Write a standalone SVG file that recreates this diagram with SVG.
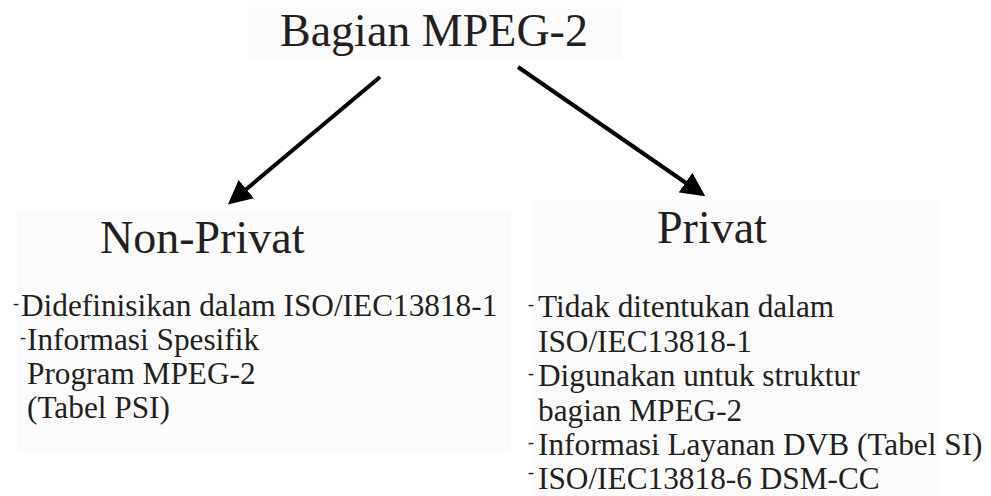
<svg xmlns="http://www.w3.org/2000/svg" width="991" height="496" viewBox="0 0 991 496">
  <style>
    text { font-family: "Liberation Serif", "Times New Roman", serif; fill: #231f20; }
    .head { font-size: 46px; }
    .item { font-size: 31.3px; }
    .dot { font-size: 18px; }
    .panel { fill: #fbfbfb; }
    .link { stroke: #000; stroke-width: 4; fill: none; }
  </style>
  <defs>
    <marker id="arrow" markerWidth="6" markerHeight="6" refX="5" refY="3" orient="auto" markerUnits="strokeWidth">
      <path d="M0,0 L6,3 L0,6 z" fill="#000"/>
    </marker>
  </defs>

  <rect width="991" height="496" fill="#fff"/>

  <!-- root -->
  <g id="root">
    <rect class="panel" x="248" y="7" width="374" height="53"/>
    <text class="head" x="280" y="46">Bagian MPEG-2</text>
  </g>

  <!-- connectors -->
  <g id="connectors">
    <line class="link" x1="380" y1="77" x2="231" y2="202" marker-end="url(#arrow)"/>
    <line class="link" x1="518" y1="67" x2="702" y2="194" marker-end="url(#arrow)"/>
  </g>

  <!-- non-private branch -->
  <g id="non-privat">
    <rect class="panel" x="17" y="210" width="494" height="243"/>
    <text class="head" x="100" y="253">Non-Privat</text>
    <text class="item" x="13" y="316"><tspan class="dot" dy="-7">-</tspan><tspan dy="7" x="21">Didefinisikan dalam ISO/IEC13818-1</tspan></text>
    <text class="item" x="20" y="350"><tspan class="dot" dy="-7">-</tspan><tspan dy="7" x="27">Informasi Spesifik</tspan></text>
    <text class="item" x="27" y="384">Program MPEG-2</text>
    <text class="item" x="27" y="418">(Tabel PSI)</text>
  </g>

  <!-- private branch -->
  <g id="privat">
    <rect class="panel" x="533" y="200" width="406" height="296"/>
    <text class="head" x="657" y="243">Privat</text>
    <text class="item" x="528" y="317"><tspan class="dot" dy="-7">-</tspan><tspan dy="7" x="538">Tidak ditentukan dalam</tspan></text>
    <text class="item" x="538" y="352">ISO/IEC13818-1</text>
    <text class="item" x="528" y="386"><tspan class="dot" dy="-7">-</tspan><tspan dy="7" x="538">Digunakan untuk struktur</tspan></text>
    <text class="item" x="538" y="421">bagian MPEG-2</text>
    <text class="item" x="528" y="455"><tspan class="dot" dy="-7">-</tspan><tspan dy="7" x="538">Informasi Layanan DVB (Tabel SI)</tspan></text>
    <text class="item" x="528" y="489"><tspan class="dot" dy="-11">-</tspan><tspan dy="11" x="538">ISO/IEC13818-6 DSM-CC</tspan></text>
  </g>
</svg>
